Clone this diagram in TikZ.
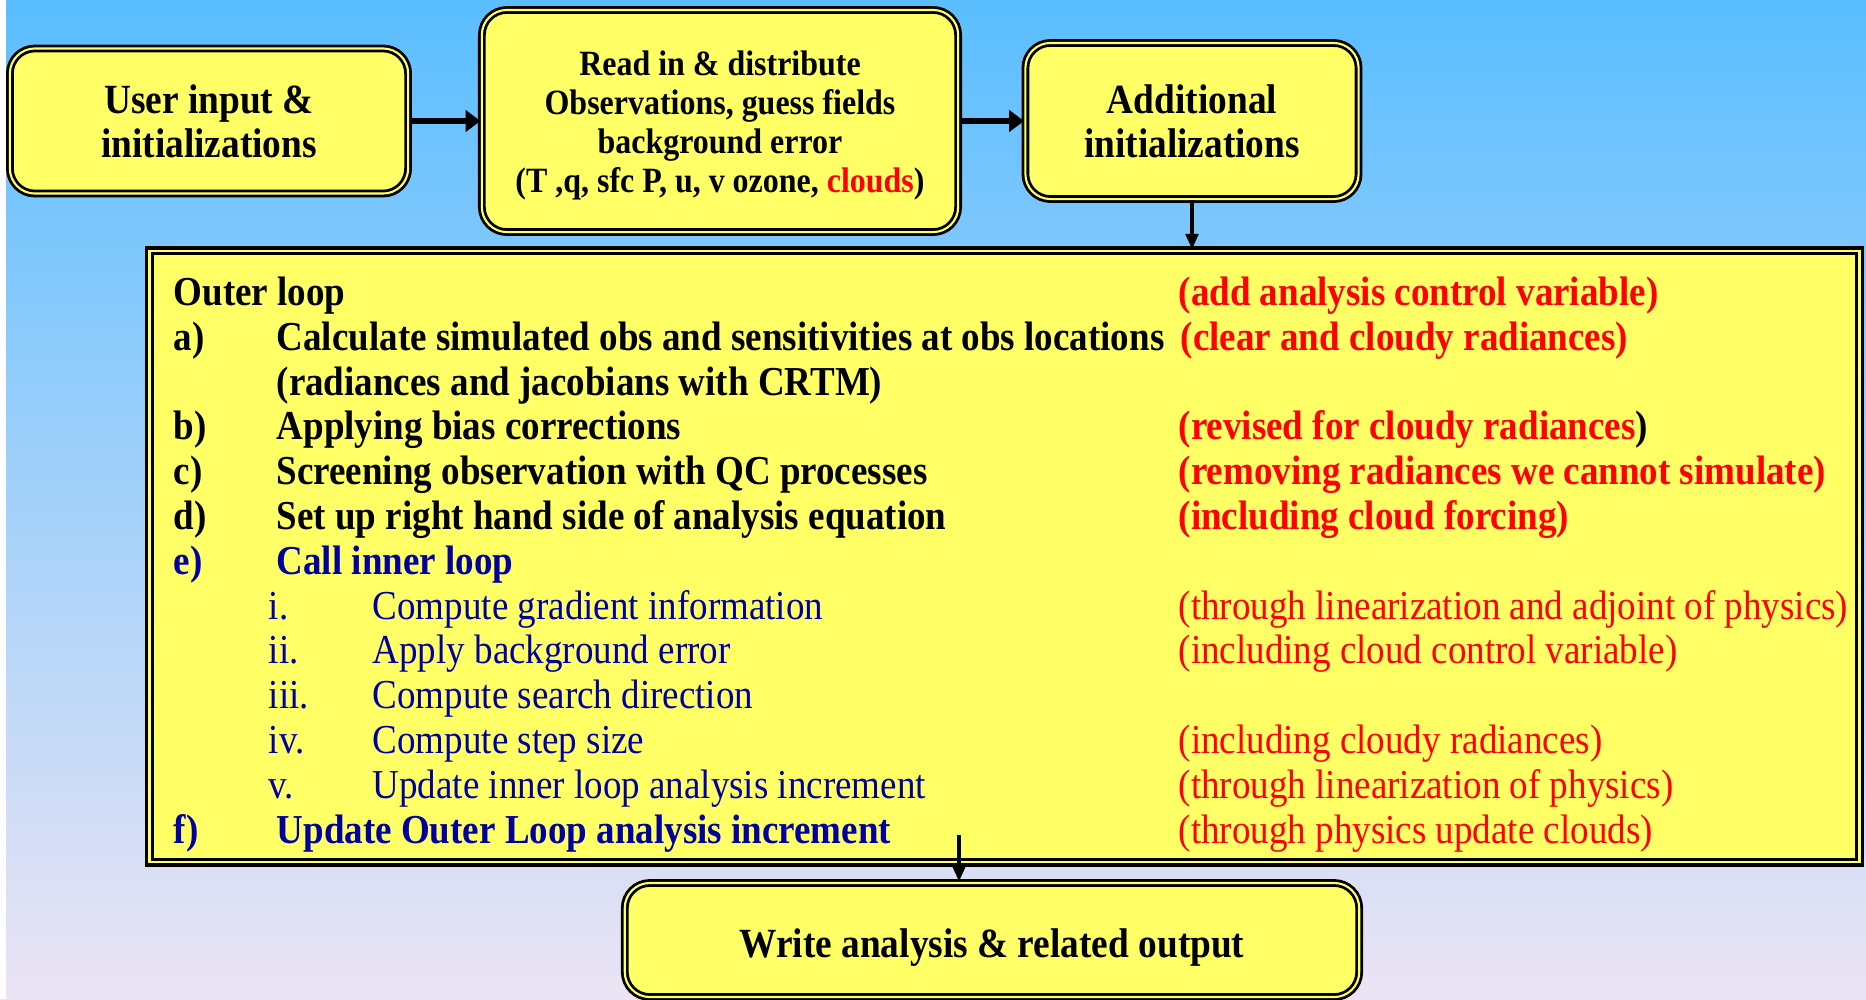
\documentclass[tikz,border=0pt]{standalone}
\usepackage{fontspec}
\setmainfont{Liberation Serif}[FakeStretch=0.9]
\usetikzlibrary{arrows.meta}
\definecolor{boxyellow}{RGB}{255,255,102}
\definecolor{skytop}{RGB}{90,190,255}
\definecolor{skybottom}{RGB}{236,228,244}
\definecolor{loopblue}{RGB}{0,0,160}
\definecolor{notered}{RGB}{255,0,0}
\begin{document}
\begin{tikzpicture}[x=0.01cm,y=-0.01cm,
  stagebox/.style={draw=black,line width=0.8pt,double=boxyellow,double distance=0.6pt,
    fill=boxyellow,rounded corners=0.25cm,align=center,inner sep=0pt},
  loopbox/.style={draw=black,line width=0.9pt,double=boxyellow,double distance=0.7pt,
    fill=boxyellow,inner sep=0pt},
  steptext/.style={anchor=base west,inner sep=0pt,font=\fontsize{11.7}{12}\selectfont\bfseries},
  subtext/.style={anchor=base west,inner sep=0pt,font=\fontsize{11.7}{12}\selectfont},
  flowarrow/.style={-{Triangle[length=4.2pt,width=6pt]},line width=1.8pt},
  thinarrow/.style={-{Triangle[length=4.4pt,width=3.6pt]},line width=1pt}]
\useasboundingbox (0,0) rectangle (1866,999);
\shade[top color=skytop,bottom color=skybottom] (0,0) rectangle (1866,999);
\fill[white] (0,0) rectangle (6,999);

\node[stagebox,minimum width=3.98cm,minimum height=1.45cm,
  font=\fontsize{11.8}{12.5}\selectfont\bfseries] (userin) at (209,121)
  {User input \&\\initializations};
\node[stagebox,minimum width=4.76cm,minimum height=2.22cm,
  font=\fontsize{10.1}{11.1}\selectfont\bfseries] (readin) at (720,121)
  {\rule{0pt}{9.5pt}Read in \& distribute\\Observations, guess fields\\background error\\
   (T ,q, sfc P, u, v ozone, \textcolor{notered}{clouds})};
\node[stagebox,minimum width=3.33cm,minimum height=1.56cm,
  font=\fontsize{11.8}{12.5}\selectfont\bfseries] (addinit) at (1192,121)
  {Additional\\initializations};
\node[loopbox,minimum width=17.09cm,minimum height=6.11cm] (outer) at (1004.5,556.5) {};
\node[stagebox,minimum width=7.34cm,minimum height=1.14cm,
  font=\fontsize{11.8}{12}\selectfont\bfseries] (writeout) at (992,940)
  {\raisebox{-5pt}[0pt][0pt]{Write analysis \& related output}};

\draw[flowarrow] (userin.east) -- (readin.west |- userin.east);
\draw[flowarrow] (readin.east) -- (addinit.west);
\draw[thinarrow] (addinit.south) -- (addinit.south |- outer.north);
\coordinate (loopexit) at (959,835);
\draw[thinarrow] (loopexit) -- (loopexit |- writeout.north);

\node[steptext] (outerlbl) at (173,305) {Outer loop};
\node[steptext,notered] (outernote) at (1178,305) {(add analysis control variable)};
\node[steptext] (alabel) at (173,350) {a)};
\node[steptext] (atext) at (276,350) {Calculate simulated obs and sensitivities at obs locations};
\node[steptext,notered] (anote) at (1180,350) {(clear and cloudy radiances)};
\node[steptext] (atext2) at (276,395) {(radiances and jacobians with CRTM)};
\node[steptext] (blabel) at (173,439) {b)};
\node[steptext] (btext) at (276,439) {Applying bias corrections};
\node[steptext] (bnote) at (1178,439) {\textcolor{notered}{(revised for cloudy radiances}\textcolor{black}{)}};
\node[steptext] (clabel) at (173,484) {c)};
\node[steptext] (ctext) at (276,484) {Screening observation with QC processes};
\node[steptext,notered] (cnote) at (1178,484) {(removing radiances we cannot simulate)};
\node[steptext] (dlabel) at (173,529) {d)};
\node[steptext] (dtext) at (276,529) {Set up right hand side of analysis equation};
\node[steptext,notered] (dnote) at (1178,529) {(including cloud forcing)};
\node[steptext,loopblue] (elabel) at (173,574) {e)};
\node[steptext,loopblue] (etext) at (276,574) {Call inner loop};
\node[subtext,loopblue] (ilabel) at (268,619) {i.};
\node[subtext,loopblue] (itext) at (372,619) {Compute gradient information};
\node[subtext,notered] (inote) at (1178,619) {(through linearization and adjoint of physics)};
\node[subtext,loopblue] (iilabel) at (268,663) {ii.};
\node[subtext,loopblue] (iitext) at (372,663) {Apply background error};
\node[subtext,notered] (iinote) at (1178,663) {(including cloud control variable)};
\node[subtext,loopblue] (iiilabel) at (268,708) {iii.};
\node[subtext,loopblue] (iiitext) at (372,708) {Compute search direction};
\node[subtext,loopblue] (ivlabel) at (268,753) {iv.};
\node[subtext,loopblue] (ivtext) at (372,753) {Compute step size};
\node[subtext,notered] (ivnote) at (1178,753) {(including cloudy radiances)};
\node[subtext,loopblue] (vlabel) at (268,798) {v.};
\node[subtext,loopblue] (vtext) at (372,798) {Update inner loop analysis increment};
\node[subtext,notered] (vnote) at (1178,798) {(through linearization of physics)};
\node[steptext,loopblue] (flabel) at (173,843) {f)};
\node[steptext,loopblue] (ftext) at (276,843) {Update Outer Loop analysis increment};
\node[subtext,notered] (fnote) at (1178,843) {(through physics update clouds)};
\end{tikzpicture}
\end{document}
